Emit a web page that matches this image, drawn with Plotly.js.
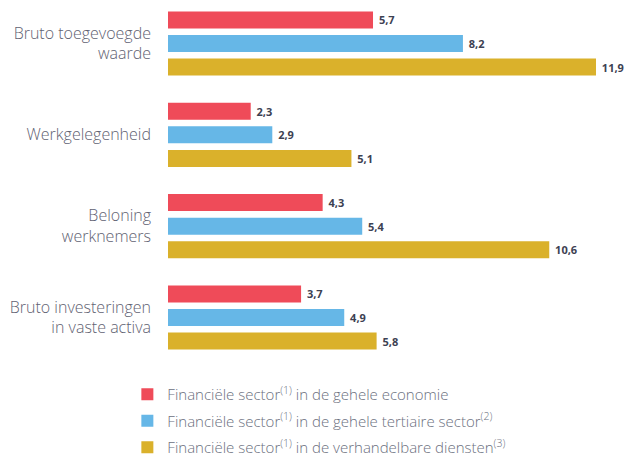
<!DOCTYPE html>
<html><head><meta charset="utf-8">
<script src="https://cdn.plot.ly/plotly-3.0.1.min.js"></script>
<style>body{margin:0;background:#fff}#chart{width:625px;height:457px}</style>
</head><body><div id="chart"></div>
<script>
const categories = ["Bruto toegevoegde<br>waarde", "Werkgelegenheid", "Beloning<br>werknemers", "Bruto investeringen<br>in vaste activa"];
const seriesNames = [
  "Financiële sector<sup>(1)</sup> in de gehele economie",
  "Financiële sector<sup>(1)</sup> in de gehele tertiaire sector<sup>(2)</sup>",
  "Financiële sector<sup>(1)</sup> in de verhandelbare diensten<sup>(3)</sup>"
];
const economie = [5.7, 2.3, 4.3, 3.7];
const tertiair = [8.2, 2.9, 5.4, 4.9];
const diensten = [11.9, 5.1, 10.6, 5.8];
const colors = ["#ef4b59", "#66b7e7", "#dab12b"];

const values = [economie, tertiair, diensten];
const traces = values.map((v, i) => ({
  type: "bar", orientation: "h", name: seriesNames[i], legendgroup: "g" + i,
  x: v, y: categories, marker: {color: colors[i]},
  texttemplate: " %{x:.1f}", textposition: "outside", cliponaxis: false,
  textfont: {family: "Open Sans, sans-serif", size: 11, color: "#3d4152", weight: 700},
  hoverinfo: "skip"
}));

const layout = {
  width: 625, height: 457,
  margin: {l: 168, r: 20, t: 0, b: 92},
  paper_bgcolor: "#fff", plot_bgcolor: "#fff",
  barmode: "group", bargap: 0.225, bargroupgap: 0.28,
  separators: ",.",
  showlegend: true,
  legend: {orientation: "v", xref: "paper", x: -0.093, xanchor: "left",
    yref: "container", y: (457 - 378) / 457, yanchor: "top",
    font: {family: "Open Sans, sans-serif", size: 15, color: "#6b6f7e", weight: 300},
    tracegroupgap: 4, traceorder: "grouped"},
  xaxis: {range: [0, 12.15], showgrid: false, zeroline: false, showticklabels: false, showline: false, fixedrange: true},
  yaxis: {type: "category", range: [3.52, -0.476], showgrid: false, zeroline: false, showline: false,
    ticks: "", ticklabelstandoff: 16,
    tickfont: {family: "Open Sans, sans-serif", size: 16, color: "#5f6272", weight: 300}},
};
Plotly.newPlot("chart", traces, layout, {displayModeBar: false, staticPlot: true});
</script></body></html>
